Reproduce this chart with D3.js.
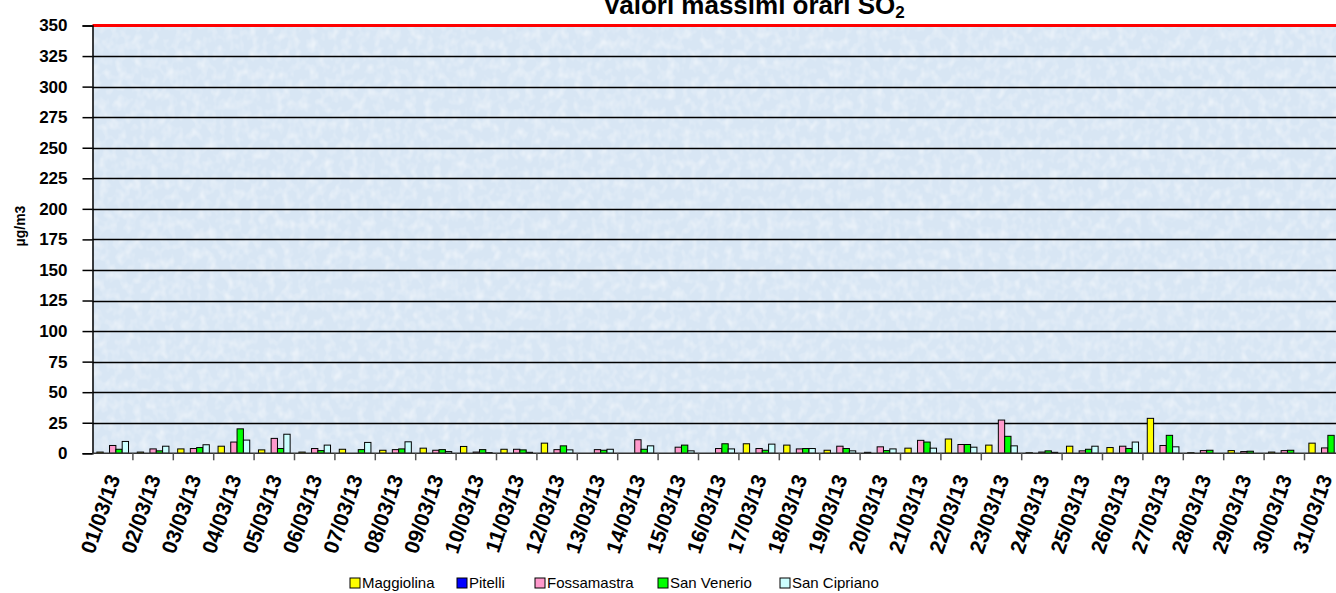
<!DOCTYPE html>
<html>
<head>
<meta charset="utf-8">
<script src="https://cdn.jsdelivr.net/npm/d3@7"></script>
<style>
  body { margin: 0; background: #fff; }
  svg { display: block; font-family: "Liberation Sans", Arial, sans-serif; }
</style>
</head>
<body>
<svg id="chart"></svg>
<script>
// days of March 2013
const dates = ["01/03/13","02/03/13","03/03/13","04/03/13","05/03/13","06/03/13","07/03/13","08/03/13",
  "09/03/13","10/03/13","11/03/13","12/03/13","13/03/13","14/03/13","15/03/13","16/03/13",
  "17/03/13","18/03/13","19/03/13","20/03/13","21/03/13","22/03/13","23/03/13","24/03/13",
  "25/03/13","26/03/13","27/03/13","28/03/13","29/03/13","30/03/13","31/03/13"];

const stations = ["Maggiolina", "Pitelli", "Fossamastra", "San Venerio", "San Cipriano"];
const stationColors = ["#ffff00", "#0000ff", "#ff99cc", "#00ff00", "#ccffff"];

// max hourly SO2 values, ug/m3 (null = no data)
const maggiolina = [1,1,3.6,5.8,2.8,1,3.3,2.5,4.2,5.6,3.3,8.3,null,null,null,null,
  7.8,6.7,2.5,0.8,4.2,11.7,6.7,0.5,5.8,4.7,28.6,0.5,2.2,1,8.3];
const pitelli = dates.map(() => null);
const fossamastra = [6.4,3.6,3.9,9.2,12.2,3.9,null,3,2.5,1,3.3,3,3,11.1,5,3.9,
  3.9,3.6,5.8,5.3,10.6,7.2,27.2,1,2,5.8,6.4,2.2,1.4,2.2,4.4];
const sanVenerio = [3.3,2,4.7,20,3.9,2.2,3,3.6,3,3,2.8,6.1,2.5,3.3,6.7,7.8,
  2.5,3.9,3.9,2.2,9.2,7.2,13.9,2,3.3,3.9,14.7,2.5,1.7,2.5,14.7];
const sanCipriano = [9.7,5.8,7,10.8,15.6,6.7,8.9,9.4,1.4,0.6,0.8,2.8,3.3,6.1,2,3.6,
  7.5,3.9,2,3.6,4.2,5,6.1,0.8,5.8,9.2,5.3,null,null,null,null];

const yTicks = d3.range(0, 351, 25);
const limitValue = 350;

const width = 1336, height = 593;
const svg = d3.select("#chart").attr("width", width).attr("height", height);

const plot = { left: 92.5, top: 25.5, bottom: 453.3, step: 40.4 };
plot.right = plot.left + plot.step * dates.length; // runs past the window edge

const seriesData = [maggiolina, pitelli, fossamastra, sanVenerio, sanCipriano];

const x0 = d3.scaleBand().domain(dates).range([plot.left, plot.right]).padding(0);
const x1 = d3.scaleBand().domain(stations).range([0, x0.bandwidth()]).paddingInner(0).paddingOuter(0.69);
const y = d3.scaleLinear().domain([0, 350]).range([plot.bottom, plot.top]);
const color = d3.scaleOrdinal().domain(stations).range(stationColors);

// textured light blue background
const defs = svg.append("defs");
const filt = defs.append("filter").attr("id", "tex")
  .attr("x", 0).attr("y", 0).attr("width", 1).attr("height", 1);
filt.append("feTurbulence").attr("type", "fractalNoise")
  .attr("baseFrequency", "0.12 0.1").attr("numOctaves", 2).attr("seed", 7);
filt.append("feColorMatrix").attr("type", "matrix")
  .attr("values", "0 0 0 0 1  0 0 0 0 1  0 0 0 0 1  0 0 0 2 -0.85");

svg.append("rect")
  .attr("x", plot.left).attr("y", plot.top)
  .attr("width", plot.right - plot.left).attr("height", plot.bottom - plot.top)
  .attr("fill", "#d8e6f4");
svg.append("rect")
  .attr("x", plot.left).attr("y", plot.top)
  .attr("width", plot.right - plot.left).attr("height", plot.bottom - plot.top)
  .attr("filter", "url(#tex)")
  .attr("opacity", 0.5);

// gridlines
svg.append("g")
  .selectAll("line")
  .data(yTicks.filter(d => d > 0 && d < limitValue))
  .join("line")
  .attr("x1", plot.left).attr("x2", plot.right)
  .attr("y1", d => Math.round(y(d)) + 0.5).attr("y2", d => Math.round(y(d)) + 0.5)
  .attr("stroke", "#000").attr("stroke-width", 1.6);

// bars
const groups = svg.append("g")
  .selectAll("g")
  .data(dates)
  .join("g")
  .attr("transform", d => `translate(${x0(d)},0)`);

groups.selectAll("rect")
  .data((d, i) => stations.map((s, j) => ({ station: s, value: seriesData[j][i] })).filter(e => e.value != null && e.value > 0))
  .join("rect")
  .attr("x", d => x1(d.station))
  .attr("width", x1.bandwidth())
  .attr("y", d => y(d.value))
  .attr("height", d => y(0) - y(d.value))
  .attr("fill", d => color(d.station))
  .attr("stroke", "#000")
  .attr("stroke-width", 1);

// limit line at 350
svg.append("line")
  .attr("x1", plot.left).attr("x2", plot.right)
  .attr("y1", y(limitValue)).attr("y2", y(limitValue))
  .attr("stroke", "#ff0000").attr("stroke-width", 3);

// y axis
const yAxis = d3.axisLeft(y).tickValues(yTicks).tickSize(10).tickPadding(15);
const gy = svg.append("g")
  .attr("transform", `translate(${plot.left},0)`)
  .call(yAxis);
gy.select(".domain").attr("stroke", "#000").attr("stroke-width", 1.5);
gy.selectAll(".tick line").attr("stroke", "#000").attr("stroke-width", 1.5);
gy.selectAll(".tick text")
  .attr("font-size", 17).attr("font-weight", "bold").attr("fill", "#000")
  .attr("font-family", "Liberation Sans, Arial, sans-serif");

// x axis baseline + ticks at category boundaries
svg.append("line")
  .attr("x1", plot.left).attr("x2", plot.right)
  .attr("y1", plot.bottom).attr("y2", plot.bottom)
  .attr("stroke", "#333").attr("stroke-width", 1.5);
svg.append("g")
  .selectAll("line")
  .data(dates.slice(1))
  .join("line")
  .attr("x1", d => x0(d)).attr("x2", d => x0(d))
  .attr("y1", plot.bottom).attr("y2", plot.bottom + 7)
  .attr("stroke", "#555").attr("stroke-width", 1.5);

svg.append("g")
  .selectAll("text")
  .data(dates)
  .join("text")
  .attr("transform", d => `translate(${x0(d) + x0.bandwidth() / 2 + 1},${plot.bottom + 22}) rotate(-71)`)
  .attr("text-anchor", "end")
  .attr("dy", "0.35em")
  .attr("font-size", 21).attr("font-weight", "bold")
  .text(d => d);

// y title
svg.append("text")
  .attr("transform", `translate(25,226) rotate(-90)`)
  .attr("text-anchor", "middle")
  .attr("font-size", 14).attr("font-weight", "bold")
  .text("µg/m3");

// chart title
const title = svg.append("text")
  .attr("x", 754).attr("y", 14)
  .attr("text-anchor", "middle")
  .attr("font-size", 26).attr("font-weight", "bold");
title.append("tspan").text("Valori massimi orari SO");
title.append("tspan").attr("font-size", 17).attr("dy", 4).text("2");

// legend
const legendX = [350, 457, 535, 658, 780];
const legend = svg.append("g")
  .selectAll("g")
  .data(stations)
  .join("g")
  .attr("transform", (d, i) => `translate(${legendX[i]},578)`);
legend.append("rect")
  .attr("width", 10).attr("height", 10)
  .attr("fill", d => color(d))
  .attr("stroke", "#000").attr("stroke-width", 1);
legend.append("text")
  .attr("x", 12).attr("y", 10)
  .attr("font-size", 15)
  .text(d => d);
</script>
</body>
</html>
